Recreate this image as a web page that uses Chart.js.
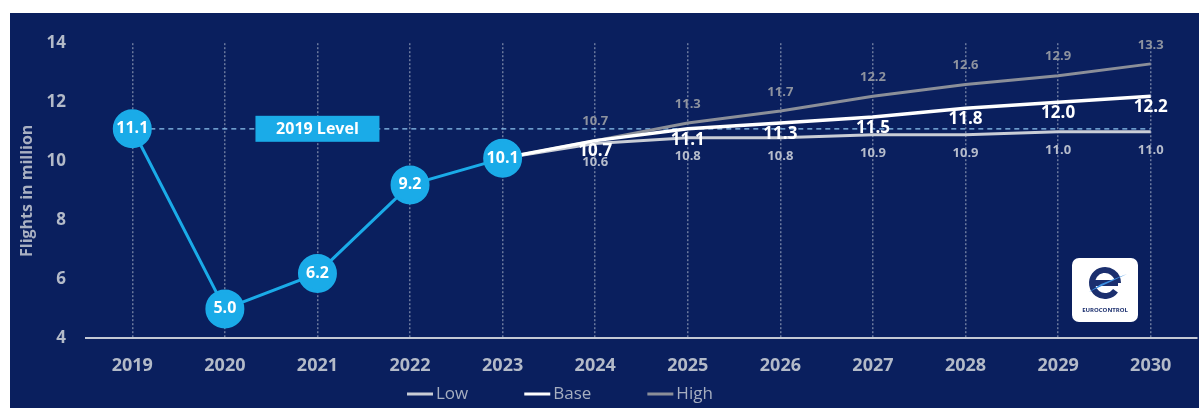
<!DOCTYPE html>
<html>
<head>
<meta charset="utf-8">
<script src="https://cdn.jsdelivr.net/npm/chart.js@4.4.0/dist/chart.umd.min.js"></script>
<style>
  html, body { margin: 0; padding: 0; background: #ffffff; }
  #wrap {
    position: absolute; left: 10px; top: 13px;
    width: 1189px; height: 395px;
    background: #0a1f5e;
  }
</style>
</head>
<body>
<div id="wrap"><canvas id="flightsChart" width="1189" height="395"></canvas></div>
<script>
// Datos del gráfico
const years = ["2019", "2020", "2021", "2022", "2023", "2024", "2025", "2026", "2027", "2028", "2029", "2030"];
const actual = [11.1, 5.0, 6.2, 9.2, 10.1, null, null, null, null, null, null, null];
const lowScenario = [null, null, null, null, 10.1, 10.6, 10.8, 10.8, 10.9, 10.9, 11.0, 11.0];
const baseScenario = [null, null, null, null, 10.1, 10.7, 11.1, 11.3, 11.5, 11.8, 12.0, 12.2];
const highScenario = [null, null, null, null, 10.1, 10.7, 11.3, 11.7, 12.2, 12.6, 12.9, 13.3];
const level2019 = years.map(() => 11.1);
const yTicks = [4, 6, 8, 10, 12, 14];

const FONT = "'Open Sans', 'Noto Sans', sans-serif";
const CYAN = "#1aabe8";
const LOW_COLOR = "#c9cdd6";
const BASE_COLOR = "#ffffff";
const HIGH_COLOR = "#8b8f99";
const TICK_COLOR = "#b3bac8";

/**
 * Etiquetas de valores sobre los puntos
 */
const valueLabels = {
  id: "valueLabels",
  afterDatasetsDraw(chart) {
    const ctx = chart.ctx;
    ctx.save();
    ctx.textAlign = "center";
    ctx.textBaseline = "middle";
    chart.data.datasets.forEach((ds, i) => {
      const cfg = ds.labelStyle;
      if (!cfg) return;
      const meta = chart.getDatasetMeta(i);
      meta.data.forEach((pt, j) => {
        const v = ds.data[j];
        if (v === null || (cfg.skipFirst && j === 4)) return;
        ctx.font = cfg.font;
        ctx.fillStyle = cfg.color;
        ctx.fillText(v.toFixed(1), pt.x, pt.y + cfg.dy);
      });
    });
    ctx.restore();
  },
};

/**
 * Caja "2019 Level", leyenda inferior y logotipo
 */
const decorations = {
  id: "decorations",
  afterDatasetsDraw(chart) {
    const ctx = chart.ctx;
    const x = chart.scales.x;
    const y = chart.scales.y;
    ctx.save();

    // Caja 2019 Level
    const bx = x.getPixelForValue(2);
    const by = y.getPixelForValue(11.1);
    ctx.fillStyle = CYAN;
    ctx.fillRect(bx - 62, by - 13, 124, 26);
    ctx.fillStyle = "#ffffff";
    ctx.font = "bold 16px " + FONT;
    ctx.textAlign = "center";
    ctx.textBaseline = "middle";
    ctx.fillText("2019 Level", bx, by + 1);

    // Leyenda
    const items = [
      { text: "Low", color: LOW_COLOR },
      { text: "Base", color: BASE_COLOR },
      { text: "High", color: HIGH_COLOR },
    ];
    ctx.font = "17px " + FONT;
    ctx.textAlign = "left";
    let lx = 397;
    const ly = 381;
    items.forEach((it) => {
      ctx.fillStyle = it.color;
      ctx.fillRect(lx, ly - 1.5, 26, 3);
      ctx.fillStyle = "#a6aec0";
      ctx.fillText(it.text, lx + 29, ly);
      lx += 29 + ctx.measureText(it.text).width + 56;
    });

    // Logotipo
    const gx = 1062, gy = 245, gw = 66, gh = 64;
    ctx.fillStyle = "#ffffff";
    ctx.beginPath();
    ctx.roundRect(gx, gy, gw, gh, 7);
    ctx.fill();
    const cx = gx + 33, cy = gy + 25;
    ctx.strokeStyle = "#1b2f6e";
    ctx.lineWidth = 6;
    ctx.beginPath();
    ctx.arc(cx, cy, 13, 0.2 * Math.PI, 2 * Math.PI);
    ctx.stroke();
    ctx.beginPath();
    ctx.moveTo(cx - 13, cy);
    ctx.lineTo(cx + 13, cy);
    ctx.stroke();
    ctx.fillStyle = "#3c8fe0";
    ctx.beginPath();
    ctx.moveTo(cx - 16, cy + 9);
    ctx.lineTo(cx + 22, cy - 9);
    ctx.lineTo(cx - 4, cy + 1);
    ctx.closePath();
    ctx.fill();
    ctx.fillStyle = "#1b2f6e";
    ctx.font = "bold 6px " + FONT;
    ctx.textAlign = "center";
    ctx.fillText("EUROCONTROL", cx, gy + 52);

    ctx.restore();
  },
};

new Chart(document.getElementById("flightsChart").getContext("2d"), {
  type: "line",
  data: {
    labels: years,
    datasets: [
      {
        label: "Actual",
        data: actual,
        borderColor: CYAN,
        backgroundColor: CYAN,
        borderWidth: 3,
        pointRadius: 18,
        pointBackgroundColor: CYAN,
        pointBorderColor: CYAN,
        order: 0,
        labelStyle: { font: "bold 16px " + FONT, color: "#ffffff", dy: 0 },
      },
      {
        label: "2019 Level",
        data: level2019,
        borderColor: "#8fc6f0",
        borderWidth: 1.2,
        borderDash: [5, 4],
        pointRadius: 0,
        order: 5,
      },
      {
        label: "Low",
        data: lowScenario,
        borderColor: LOW_COLOR,
        backgroundColor: LOW_COLOR,
        borderWidth: 3,
        pointRadius: 0,
        order: 3,
        labelStyle: { font: "bold 13px " + FONT, color: "#b6bccb", dy: 19, skipFirst: true },
      },
      {
        label: "Base",
        data: baseScenario,
        borderColor: BASE_COLOR,
        backgroundColor: BASE_COLOR,
        borderWidth: 3.5,
        pointRadius: 0,
        order: 1,
        labelStyle: { font: "bold 17px " + FONT, color: "#ffffff", dy: 11, skipFirst: true },
      },
      {
        label: "High",
        data: highScenario,
        borderColor: HIGH_COLOR,
        backgroundColor: HIGH_COLOR,
        borderWidth: 3,
        pointRadius: 0,
        order: 2,
        labelStyle: { font: "bold 13px " + FONT, color: "#8e939f", dy: -19, skipFirst: true },
      },
    ],
  },
  options: {
    responsive: false,
    animation: false,
    layout: { autoPadding: false, padding: { left: 8, right: 2, top: 29, bottom: 14 } },
    plugins: {
      legend: { display: false },
      tooltip: { enabled: false },
    },
    scales: {
      x: {
        offset: true,
        grid: {
          offset: false,
          color: "rgba(170, 180, 200, 0.6)",
          lineWidth: 1.5,
          drawTicks: false,
        },
        border: { display: true, color: "#c3c8d4", width: 2, dash: [2, 2] },
        ticks: {
          color: TICK_COLOR,
          font: { family: FONT, size: 18, weight: "bold" },
          padding: 17,
        },
      },
      y: {
        min: 4,
        max: 14,
        afterBuildTicks(scale) {
          scale.ticks = yTicks.map((v) => ({ value: v }));
        },
        afterFit(scale) {
          scale.width = 68;
        },
        grid: { display: false, drawTicks: false },
        border: { display: false },
        ticks: {
          color: TICK_COLOR,
          font: { family: FONT, size: 17, weight: "bold" },
          padding: 20,
        },
        title: {
          display: true,
          text: "Flights in million",
          color: "#a9b0c2",
          font: { family: FONT, size: 16, weight: "bold" },
          padding: 0,
        },
      },
    },
  },
  plugins: [valueLabels, decorations],
});
</script>
</body>
</html>
